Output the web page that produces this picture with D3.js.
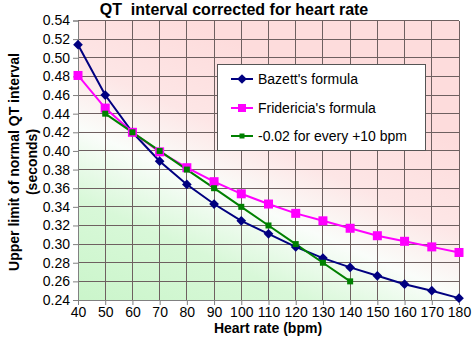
<!DOCTYPE html>
<html><head><meta charset="utf-8">
<script src="https://cdn.jsdelivr.net/npm/d3@7"></script>
<style>html,body{margin:0;padding:0;background:#fff;}svg{display:block;font-family:"Liberation Sans",Arial,sans-serif;}</style>
</head><body>
<svg id="c" width="474" height="339"></svg>
<script>
const heartRates = [40,50,60,70,80,90,100,110,120,130,140,150,160,170,180];
const bazett = [0.514,0.460,0.420,0.389,0.364,0.343,0.325,0.311,0.297,0.285,0.275,0.266,0.257,0.250,0.242];
const fridericia = [0.481,0.446,0.420,0.399,0.382,0.367,0.354,0.343,0.333,0.325,0.317,0.309,0.303,0.297,0.291];
const simpleRateHR = [50,60,70,80,90,100,110,120,130,140];
const simpleRule = [0.44,0.42,0.40,0.38,0.36,0.34,0.32,0.30,0.28,0.26];
const yTicks = [0.24,0.26,0.28,0.30,0.32,0.34,0.36,0.38,0.40,0.42,0.44,0.46,0.48,0.50,0.52,0.54];
const xTicks = heartRates;
const seriesNames = ["Bazett's formula","Fridericia's formula","-0.02 for every +10 bpm"];

const svg = d3.select("#c");
const L=78, R=459, T=20.5, B=300;
const x = d3.scaleLinear().domain([40,180]).range([L,R]);
const y = d3.scaleLinear().domain([0.24,0.54]).range([B,T]);

const defs = svg.append("defs");
const g = defs.append("linearGradient").attr("id","bg").attr("gradientUnits","userSpaceOnUse")
  .attr("x1",200).attr("y1",350).attr("x2",320).attr("y2",80);
g.append("stop").attr("offset",0).attr("stop-color","#cbf5cb");
g.append("stop").attr("offset",0.3).attr("stop-color","#d8f8d8");
g.append("stop").attr("offset",0.52).attr("stop-color","#fafdfa");
g.append("stop").attr("offset",0.72).attr("stop-color","#fde6e6");
g.append("stop").attr("offset",1).attr("stop-color","#fddcdc");

svg.append("rect").attr("x",L).attr("y",T).attr("width",R-L).attr("height",B-T).attr("fill","url(#bg)");

// grid
svg.append("g").selectAll("line").data(yTicks).join("line")
  .attr("x1",L).attr("x2",R).attr("y1",d=>y(d)).attr("y2",d=>y(d))
  .attr("stroke","#6e6060").attr("stroke-width",1).attr("shape-rendering","crispEdges");
svg.append("g").selectAll("line").data(xTicks).join("line")
  .attr("y1",T).attr("y2",B).attr("x1",d=>x(d)).attr("x2",d=>x(d))
  .attr("stroke","#6e6060").attr("stroke-width",1).attr("shape-rendering","crispEdges");

// axes
const yAxis = svg.append("g").attr("transform",`translate(${L},0)`)
  .call(d3.axisLeft(y).tickValues(yTicks).tickFormat(d3.format(".2f")).tickSize(5).tickPadding(3));
const xAxis = svg.append("g").attr("transform",`translate(0,${B})`)
  .call(d3.axisBottom(x).tickValues(xTicks).tickFormat(d3.format("d")).tickSize(5).tickPadding(2));
[yAxis,xAxis].forEach(a=>{
  a.select(".domain").attr("stroke","#808080");
  a.selectAll(".tick line").attr("stroke","#808080");
  a.selectAll("text").attr("font-size",14).attr("fill","#000").attr("font-family","Liberation Sans, Arial, sans-serif");
});

// series
const line = d3.line().x(d=>x(d[0])).y(d=>y(d[1]));
const bz = heartRates.map((h,i)=>[h,bazett[i]]);
const fr = heartRates.map((h,i)=>[h,fridericia[i]]);
const sr = simpleRateHR.map((h,i)=>[h,simpleRule[i]]);

svg.append("path").datum(bz).attr("d",line).attr("fill","none").attr("stroke","#000080").attr("stroke-width",2);
svg.append("path").datum(fr).attr("d",line).attr("fill","none").attr("stroke","#ff00ff").attr("stroke-width",2);
svg.append("path").datum(sr).attr("d",line).attr("fill","none").attr("stroke","#008000").attr("stroke-width",2);

const diamond = d3.symbol().type(d3.symbolDiamond2).size(60);
svg.append("g").selectAll("path").data(bz).join("path")
  .attr("d",diamond).attr("transform",d=>`translate(${x(d[0])},${y(d[1])})`)
  .attr("fill","#000080");
svg.append("g").selectAll("rect").data(fr).join("rect")
  .attr("x",d=>x(d[0])-4.5).attr("y",d=>y(d[1])-4.5).attr("width",9).attr("height",9)
  .attr("fill","#ff00ff");
svg.append("g").selectAll("rect").data(sr).join("rect")
  .attr("x",d=>x(d[0])-3).attr("y",d=>y(d[1])-3).attr("width",6).attr("height",6)
  .attr("fill","#008000");

// legend
const lg = svg.append("g");
lg.append("rect").attr("x",217.5).attr("y",64.5).attr("width",208).attr("height",86)
  .attr("fill","#fff").attr("stroke","#555").attr("stroke-width",1);
const rows = [79,108,136];
const colors = ["#000080","#ff00ff","#008000"];
seriesNames.forEach((n,i)=>{
  const yy = rows[i];
  lg.append("line").attr("x1",231).attr("x2",253).attr("y1",yy).attr("y2",yy).attr("stroke",colors[i]).attr("stroke-width",2);
  if(i===0) lg.append("path").attr("d",diamond).attr("transform",`translate(242,${yy})`).attr("fill",colors[i]);
  if(i===1) lg.append("rect").attr("x",238).attr("y",yy-4).attr("width",8).attr("height",8).attr("fill",colors[i]);
  if(i===2) lg.append("rect").attr("x",239.5).attr("y",yy-2.5).attr("width",5).attr("height",5).attr("fill",colors[i]);
  lg.append("text").attr("x",258).attr("y",yy+5).attr("font-size",14).text(n);
});

// titles
svg.append("text").attr("x",234).attr("y",15).attr("text-anchor","middle").attr("font-size",16).attr("font-weight","bold")
  .attr("xml:space","preserve").style("white-space","pre").text("QT  interval corrected for heart rate");
svg.append("text").attr("x",268).attr("y",333).attr("text-anchor","middle").attr("font-size",14).attr("font-weight","bold").text("Heart rate (bpm)");
const yt = svg.append("text").attr("transform","translate(0,162) rotate(-90)").attr("text-anchor","middle").attr("font-size",14).attr("font-weight","bold");
yt.append("tspan").attr("x",0).attr("y",19).text("Upper limit of normal QT interval");
yt.append("tspan").attr("x",0).attr("y",37).text("(seconds)");
</script>
</body></html>
